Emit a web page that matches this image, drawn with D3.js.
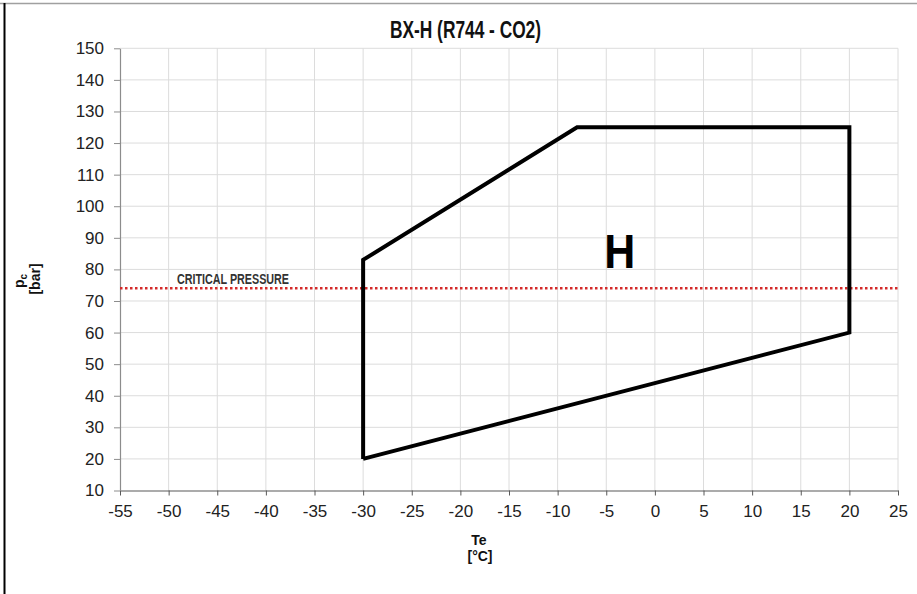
<!DOCTYPE html>
<html><head><meta charset="utf-8">
<script src="https://cdn.jsdelivr.net/npm/d3@7"></script>
<style>
html,body{margin:0;padding:0;background:#fff;}
svg{display:block;}
</style></head>
<body>
<svg id="chart" width="917" height="594"></svg>
<script>
const title = "BX-H (R744 - CO2)";
const envelopeTe = [-30, -30, -8, 20, 20, -30];
const envelopePc = [20, 83, 125, 125, 60, 20];
const criticalPressure = 74;
const criticalLabel = "CRITICAL PRESSURE";
const regionLabel = "H";
const regionLabelPos = [-3.6, 80.5];
const xTicks = [-55,-50,-45,-40,-35,-30,-25,-20,-15,-10,-5,0,5,10,15,20,25];
const yTicks = [10,20,30,40,50,60,70,80,90,100,110,120,130,140,150];

const svg = d3.select("#chart");
const W = 917, H = 594;
const x = d3.scaleLinear().domain([-55,25]).range([120, 898]);
const y = d3.scaleLinear().domain([10,150]).range([490.5, 48.3]);
const FONT = "'Liberation Sans', Arial, sans-serif";

// frame
svg.append("line").attr("x1",0).attr("x2",W).attr("y1",3.5).attr("y2",3.5).attr("stroke","#a0a0a0").attr("stroke-width",1.5);
svg.append("line").attr("x1",4.5).attr("x2",4.5).attr("y1",3).attr("y2",H).attr("stroke","#000").attr("stroke-width",2);

// gridlines
const g = svg.append("g");
g.selectAll(".vg").data(xTicks.slice(1)).join("line")
  .attr("x1",d=>x(d)).attr("x2",d=>x(d)).attr("y1",y(150)).attr("y2",y(10))
  .attr("stroke","#dcdcdc").attr("stroke-width",1);
g.selectAll(".hg").data(yTicks.slice(1)).join("line")
  .attr("x1",x(-55)).attr("x2",x(25)).attr("y1",d=>y(d)).attr("y2",d=>y(d))
  .attr("stroke","#dcdcdc").attr("stroke-width",1);

// axes
const xa = svg.append("g").attr("transform",`translate(0,${y(10)})`)
  .call(d3.axisBottom(x).tickValues(xTicks).tickFormat(d=>String(d)).tickSize(5).tickSizeOuter(0));
xa.select(".domain").attr("stroke","#595959").attr("stroke-width",1.2);
xa.selectAll(".tick line").attr("stroke","#595959");
xa.selectAll(".tick text").attr("font-family",FONT)
  .attr("font-size",17).attr("fill","#222").attr("y",14).attr("dy","0.71em");

const ya = svg.append("g").attr("transform",`translate(${x(-55)},0)`)
  .call(d3.axisLeft(y).tickValues(yTicks).tickFormat(d=>String(d)).tickSize(6).tickSizeOuter(0));
ya.select(".domain").attr("stroke","#8c8c8c").attr("stroke-width",1.2);
ya.selectAll(".tick line").attr("stroke","#8c8c8c");
ya.selectAll(".tick text").attr("font-family",FONT)
  .attr("font-size",17).attr("fill","#222").attr("x",-16);

// critical pressure
svg.append("line").attr("x1",x(-55)).attr("x2",x(25)).attr("y1",y(criticalPressure)).attr("y2",y(criticalPressure))
  .attr("stroke","#d42a2a").attr("stroke-width",2.5).attr("stroke-dasharray","2.5,2.5");
svg.append("text").attr("x",177).attr("y",y(criticalPressure)-4)
  .attr("font-family",FONT).attr("textLength",112).attr("lengthAdjust","spacingAndGlyphs")
  .attr("font-weight","bold").attr("font-size",14.5).attr("fill","#333").text(criticalLabel);

// envelope
const pts = envelopeTe.map((t,i)=>[t, envelopePc[i]]);
svg.append("path").datum(pts)
  .attr("d", d3.line().x(d=>x(d[0])).y(d=>y(d[1])))
  .attr("fill","none").attr("stroke","#000").attr("stroke-width",4).attr("stroke-linejoin","miter");

svg.append("text").attr("x",x(regionLabelPos[0])).attr("y",y(regionLabelPos[1]))
  .attr("text-anchor","middle").attr("font-family",FONT)
  .attr("font-weight","bold").attr("font-size",49).attr("fill","#000")
  .attr("textLength",31).attr("lengthAdjust","spacingAndGlyphs").text(regionLabel);

// title
svg.append("text").attr("x",390).attr("y",38)
  .attr("font-family",FONT).attr("textLength",151).attr("lengthAdjust","spacingAndGlyphs")
  .attr("font-weight","bold").attr("font-size",24).attr("fill","#111").text(title);

// y label
const yl = svg.append("text").attr("transform","translate(24,279) rotate(-90)")
  .attr("text-anchor","middle").attr("font-family",FONT)
  .attr("font-weight","bold").attr("font-size",14).attr("fill","#111");
yl.append("tspan").attr("x",-2).attr("dy",0).text("p");
yl.append("tspan").attr("font-size",10).attr("dy","0.25em").text("c");
yl.append("tspan").attr("x",0).attr("y",16).text("[bar]");

// x label
const xl = svg.append("text").attr("text-anchor","middle")
  .attr("font-family",FONT)
  .attr("font-weight","bold").attr("font-size",14).attr("fill","#111");
xl.append("tspan").attr("x",479).attr("y",545).text("Te");
xl.append("tspan").attr("x",480).attr("y",561).text("[°C]");
</script>
</body></html>
